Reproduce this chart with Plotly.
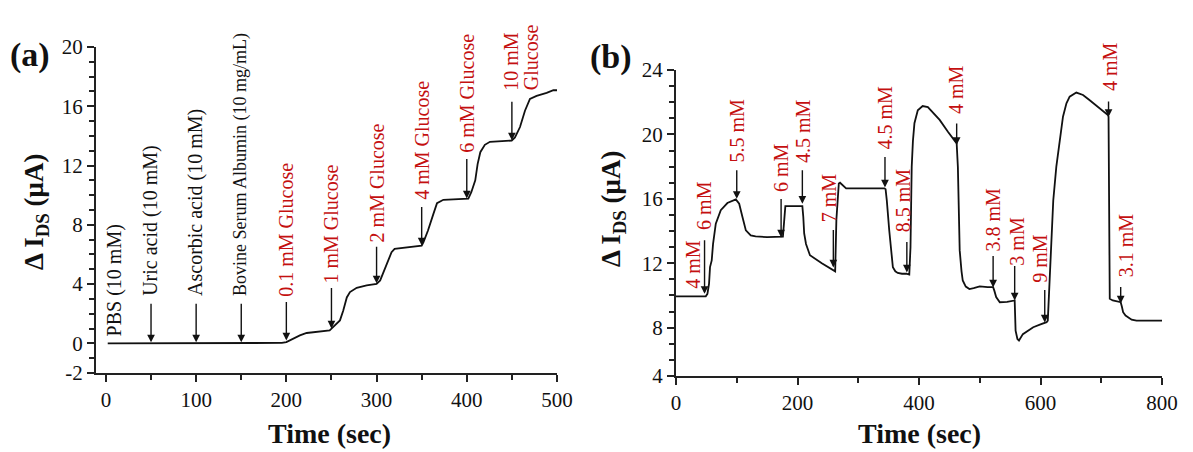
import plotly.graph_objects as go

# ---------------- data: panel (a) ----------------
time_a = [2, 50, 100, 150, 195, 200, 207.7, 215, 222.5, 230, 237, 248, 250, 254, 259.4, 263,
          267, 270.5, 278, 289, 300, 304, 307.5, 311, 316.6, 320, 333, 350, 352, 357, 363,
          367, 374, 401.7, 405, 409.4, 412, 415, 420, 425.7, 449.8, 453.4, 459, 464.5, 470,
          477.4, 488.5, 496, 500]
ids_a = [0.0, 0.0, 0.0, 0.0, 0.03, 0.09, 0.32, 0.54, 0.7, 0.74, 0.8, 0.88, 0.99, 1.21, 1.55, 2.2,
         3.1, 3.46, 3.75, 3.91, 4.02, 4.25, 4.8, 5.37, 6.15, 6.38, 6.49, 6.6, 6.83, 7.62, 8.74,
         9.46, 9.69, 9.76, 10.2, 11.0, 12.1, 12.9, 13.4, 13.6, 13.69, 13.9, 14.6, 15.7, 16.5,
         16.7, 16.9, 17.08, 17.08]

inj_a_time = [50, 100, 150, 200, 250, 300, 350, 400, 450]
inj_a_ids = [0.07, 0.07, 0.07, 0.2, 1.0, 4.05, 6.6, 9.78, 13.7]
inj_a_label = ["Uric acid (10 mM)", "Ascorbic acid (10 mM)", "Bovine Serum Albumin (10 mg/mL)",
               "0.1 mM Glucose", "1 mM Glucose", "2 mM Glucose", "4 mM Glucose",
               "6 mM Glucose", "10 mM<br>Glucose"]
pbs_label = "PBS (10 mM)"
pbs_time = 9
pbs_ids = 0.0

x_ticks_a = [0, 100, 200, 300, 400, 500]
y_tickvals_a = [-2, 0, 4, 8, 12, 16, 20]
y_ticktext_a = ["-2", "0", "4", "8", "12", "16", "20"]

# ---------------- data: panel (b) ----------------
time_b = [0, 49, 51.7, 54.4, 56, 58.8, 61, 65.5, 73.7, 84.6, 98.5, 104, 109.4, 115, 123, 131,
          150, 174, 176, 178, 180, 190, 208, 209.5, 211, 214, 220.5, 240, 260.6, 262, 264, 268,
          270, 275, 280, 300, 343, 345, 347, 351, 354, 357, 361, 365, 372, 379, 384, 386, 387,
          388, 390, 392.5, 398, 406, 414.6, 425, 434, 447.6, 462, 464, 467, 470, 472, 477, 483,
          490, 500, 513, 522, 524, 527, 533, 545, 557.5, 559, 562, 564.6, 571, 580, 588, 600,
          610, 612, 615, 618, 621, 626, 632, 637, 642.7, 648, 659, 670, 680, 692, 711, 712,
          713.5, 714, 719, 732, 734, 736, 740, 744.5, 750, 758, 800]
ids_b = [9.95, 9.95, 10.1, 10.73, 11.76, 12.18, 13.2, 14.46, 15.3, 15.74, 15.97, 15.7, 14.87,
         14.04, 13.73, 13.67, 13.62, 13.62, 13.65, 14.6, 15.55, 15.55, 15.55, 14.9, 13.85, 13.2,
         12.5, 12.0, 11.55, 11.5, 14.7, 16.95, 17.0, 16.8, 16.65, 16.65, 16.65, 16.6, 15.9,
         14.05, 12.9, 11.75, 11.5, 11.4, 11.35, 11.35, 11.3, 13.0, 15.5, 17.98, 19.6, 20.7,
         21.5, 21.76, 21.7, 21.3, 20.9, 20.16, 19.44, 17.98, 12.8, 11.5, 10.93, 10.55, 10.4,
         10.45, 10.56, 10.52, 10.52, 10.3, 9.9, 9.58, 9.6, 9.69, 7.82, 7.3, 7.2, 7.6, 7.85,
         8.03, 8.2, 8.34, 8.44, 10.7, 13.6, 15.9, 17.98, 19.85, 21.1, 21.93, 22.34, 22.6, 22.45,
         22.15, 21.8, 21.2, 21.1, 15.0, 9.8, 9.69, 9.58, 9.3, 8.96, 8.75, 8.65, 8.5, 8.44, 8.44]

inj_b_time = [47, 100, 173, 208, 259, 344, 380, 462, 522, 557.5, 607, 712, 732]
inj_b_ids = [10.1, 16.0, 13.6, 15.7, 11.74, 16.7, 11.43, 19.35, 10.5, 9.69, 8.32, 21.08, 9.5]
inj_b_label = ["6 mM", "5.5 mM", "6 mM", "4.5 mM", "7 mM", "4.5 mM", "8.5 mM", "4 mM",
               "3.8 mM", "3 mM", "9 mM", "4 mM", "3.1 mM"]
start_b_label = "4 mM"
start_b_time = 28
start_b_ids = 9.95

x_ticks_b = [0, 200, 400, 600, 800]
y_tickvals_b = [5, 8, 12, 16, 20, 24]
y_ticktext_b = ["4", "8", "12", "16", "20", "24"]

# ---------------- styles / layout helpers ----------------
W, H = 1193, 452
FONT = "Liberation Serif, Times New Roman, serif"
RED = "#c41010"
INK = "#111111"

arrow_len_a = [40, 40, 40, 40, 42, 38, 40, 41, 40]
label_shift_a = [45, 45, 45, 43, 44, 40, 45, 45, 49]
label_size_a = [20, 20, 18, 20, 20, 20, 20, 20, 20]
label_color_a = [INK, INK, INK, RED, RED, RED, RED, RED, RED]

arrow_len_b = [55, 30, 40, 35, 39, 32, 32, 23, 33, 36, 34, 17, 18]
label_shift_b = [63, 35, 44, 40, 44, 37, 39, 30, 35, 34, 39, 25, 25]
label_dx_b = [0, 0, 0, 0, -4, 0, -3, 0, 0, 2, -5, 1, 5]


def px_x(p):
    return p / W


def px_y(p):
    return 1 - p / H


fig = go.Figure()
fig.add_trace(go.Scatter(x=time_a, y=ids_a, mode="lines", line=dict(color=INK, width=1.8),
                         xaxis="x", yaxis="y", showlegend=False, hoverinfo="skip"))
fig.add_trace(go.Scatter(x=time_b, y=ids_b, mode="lines", line=dict(color=INK, width=1.8),
                         xaxis="x2", yaxis="y2", showlegend=False, hoverinfo="skip"))

annotations = []


def add_arrow(xr, yr, x, y, length):
    annotations.append(dict(x=x, y=y, xref=xr, yref=yr, ax=0, ay=-length, text="",
                            showarrow=True, arrowhead=2, arrowsize=1.1, arrowwidth=1.4,
                            arrowcolor=INK, standoff=0, startstandoff=0))


def add_label(xr, yr, x, y, text, shift, color, size, dx=0):
    lines = text.split("<br>")
    n = len(lines)
    for k, line in enumerate(lines):
        annotations.append(dict(x=x, y=y, xref=xr, yref=yr, text=line, textangle=-90,
                                showarrow=False, xanchor="center", yanchor="bottom",
                                yshift=shift, xshift=dx + (k - (n - 1) / 2) * 20 + (n - 1) * 9,
                                borderpad=0,
                                font=dict(family=FONT, size=size, color=color)))


for t, v, lab, L, s, fs, c in zip(inj_a_time, inj_a_ids, inj_a_label, arrow_len_a,
                                   label_shift_a, label_size_a, label_color_a):
    add_arrow("x", "y", t, v, L)
    add_label("x", "y", t, v, lab, s, c, fs)
add_label("x", "y", pbs_time, pbs_ids, pbs_label, 6, INK, 20)

for t, v, lab, L, s, dx in zip(inj_b_time, inj_b_ids, inj_b_label, arrow_len_b,
                               label_shift_b, label_dx_b):
    add_arrow("x2", "y2", t, v, L)
    add_label("x2", "y2", t, v, lab, s, RED, 20, dx)
add_label("x2", "y2", start_b_time, start_b_ids, start_b_label, 6, RED, 20)

# axis titles and panel tags
ytitle = "<b>\u0394 I<sub>DS</sub> (\u03bcA)</b>"
xtitle = "<b>Time (sec)</b>"
for (px, py, txt, ang, size) in [
    (36, 212, ytitle, -90, 27), (329, 433, xtitle, 0, 28),
    (613, 209, ytitle, -90, 27), (919, 433, xtitle, 0, 28),
    (30, 55, "<b>(a)</b>", 0, 34), (611, 57, "<b>(b)</b>", 0, 34),
]:
    annotations.append(dict(x=px_x(px), y=px_y(py), xref="paper", yref="paper", text=txt,
                            textangle=ang, showarrow=False, xanchor="center",
                            yanchor="middle", font=dict(family=FONT, size=size, color=INK)))

axis_common = dict(showline=True, linewidth=2, linecolor="#222", ticks="outside", ticklen=7,
                   tickwidth=1.5, tickcolor="#222", showgrid=False, zeroline=False,
                   automargin=False, tickfont=dict(family=FONT, size=21, color=INK),
                   fixedrange=True)

fig.update_layout(
    width=W, height=H, margin=dict(l=0, r=0, t=0, b=0),
    paper_bgcolor="white", plot_bgcolor="white", showlegend=False,
    xaxis=dict(domain=[px_x(96), px_x(557)], anchor="y", range=[-11, 500],
               tickmode="array", tickvals=x_ticks_a,
               minor=dict(tickmode="linear", tick0=0, dtick=50, ticklen=5, tickwidth=1.5,
                          tickcolor="#222", ticks="outside"),
               **axis_common),
    yaxis=dict(domain=[px_y(373), px_y(47)], anchor="x", range=[-2, 20],
               tickmode="array", tickvals=y_tickvals_a, ticktext=y_ticktext_a,
               minor=dict(tickmode="linear", tick0=0, dtick=1, ticklen=5, tickwidth=1.5,
                          tickcolor="#222", ticks="outside"),
               **axis_common),
    xaxis2=dict(domain=[px_x(676), px_x(1162)], anchor="y2", range=[0, 800],
                tickmode="array", tickvals=x_ticks_b,
                minor=dict(tickmode="linear", tick0=0, dtick=100, ticklen=5, tickwidth=1.5,
                           tickcolor="#222", ticks="outside"),
                **axis_common),
    yaxis2=dict(domain=[px_y(376), px_y(70)], anchor="x2", range=[5, 24],
                tickmode="array", tickvals=y_tickvals_b, ticktext=y_ticktext_b,
                minor=dict(tickmode="linear", tick0=0, dtick=1, ticklen=5, tickwidth=1.5,
                           tickcolor="#222", ticks="outside"),
                **axis_common),
    annotations=annotations,
)

fig.write_html("out.html")
